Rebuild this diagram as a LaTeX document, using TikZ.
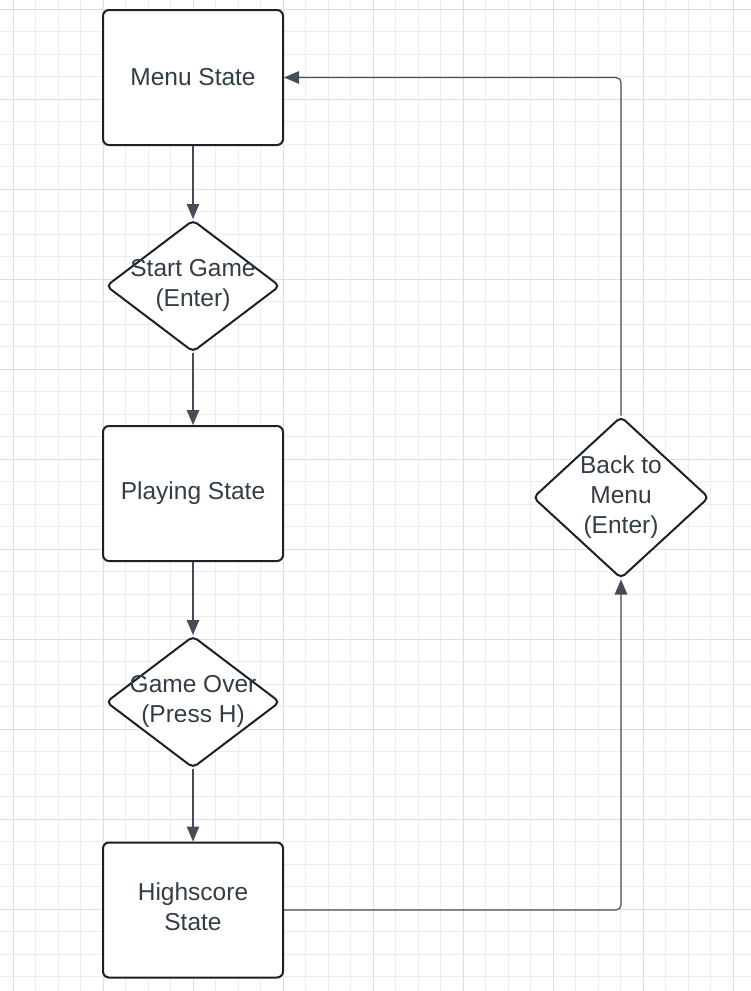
\documentclass[tikz,border=0pt]{standalone}
\usepackage{fontspec}
\setmainfont{Liberation Sans}
\usetikzlibrary{shapes.geometric,arrows.meta}
\definecolor{gridminor}{HTML}{EDEDED}
\definecolor{gridmajor}{HTML}{DEDEDE}
\definecolor{txt}{HTML}{333D47}
\definecolor{border}{HTML}{1C2027}
\definecolor{conn}{HTML}{474D56}
\tikzset{
  statebox/.style={draw=border, line width=2pt, fill=white, rounded corners=6pt,
    minimum width=180pt, minimum height=135pt, inner sep=0pt, align=center,
    text=txt, font=\fontsize{24.5}{30}\selectfont},
  decision/.style={diamond, draw=border, line width=2pt, fill=white, rounded corners=5pt,
    inner sep=0pt},
  lbl/.style={align=center, text=txt, font=\fontsize{24.5}{30}\selectfont, inner sep=0pt},
  conn/.style={draw=conn, line width=1.2pt, -{Triangle[length=15pt,width=12.5pt]}, rounded corners=5pt},
}
\begin{document}
\begin{tikzpicture}[x=1pt,y=-1pt]
\useasboundingbox (0,0) rectangle (751,991);
\fill[white] (0,0) rectangle (751,991);
% grid
\foreach \i in {0,...,33}{
  \pgfmathtruncatemacro{\m}{mod(\i,4)}
  \ifnum\m=0
    \draw[gridmajor, line width=1.3pt] ({13.3+22.5*\i},0) -- ({13.3+22.5*\i},991);
  \else
    \draw[gridminor, line width=1.1pt] ({13.3+22.5*\i},0) -- ({13.3+22.5*\i},991);
  \fi
}
\foreach \j in {0,...,43}{
  \pgfmathtruncatemacro{\m}{mod(\j,4)}
  \ifnum\m=0
    \draw[gridmajor, line width=1.3pt] (0,{9.3+22.5*\j}) -- (751,{9.3+22.5*\j});
  \else
    \draw[gridminor, line width=1.1pt] (0,{9.3+22.5*\j}) -- (751,{9.3+22.5*\j});
  \fi
}
% nodes
\node[statebox] (menu) at (193,77.5) {Menu State};
\node[decision, minimum width=174pt, minimum height=132pt] (start) at (193,286) {};
\node[lbl] at ([yshift=1pt]start.center) {Start Game\\(Enter)};
\node[statebox] (play) at (193,493.5) {Playing State};
\node[decision, minimum width=174pt, minimum height=132pt] (over) at (193,702) {};
\node[lbl] at ([yshift=1pt]over.center) {Game Over\\(Press H)};
\node[statebox] (high) at (193,910) {Highscore\\State\rule[-6pt]{0pt}{0pt}};
\node[decision, minimum width=176pt, minimum height=162pt] (back) at (621,497.5) {};
\node[lbl] at (back) {Back to\\Menu\\(Enter)};
% connectors
\draw[conn] (menu.south) -- (start.north);
\draw[conn] (start.south) -- (play.north);
\draw[conn] (play.south) -- (over.north);
\draw[conn] (over.south) -- (high.north);
\draw[conn] (high.east) -| (back.south);
\draw[conn] (back.north) |- (menu.east);
\end{tikzpicture}
\end{document}
